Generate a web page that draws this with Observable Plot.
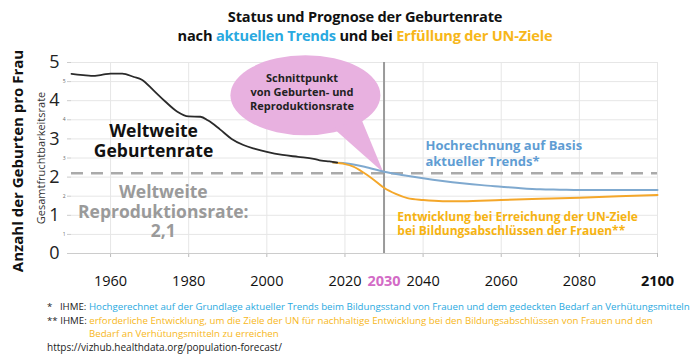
<!DOCTYPE html>
<html><head><meta charset="utf-8">
<script src="https://cdn.jsdelivr.net/npm/d3@7"></script>
<script src="https://cdn.jsdelivr.net/npm/@observablehq/plot@0.6"></script>
<style>
body{margin:0;background:#fff;font-family:"Open Sans",sans-serif;}
#wrap{position:relative;width:700px;height:357px;overflow:hidden;}
#title{position:absolute;left:15px;top:7px;width:700px;text-align:center;font-weight:700;font-size:14.6px;line-height:19px;color:#111;letter-spacing:-0.2px;}
#notes{position:absolute;left:47px;top:300px;font-size:9.7px;line-height:13.5px;color:#222;white-space:nowrap;}
.b{color:#2aa9e0}.o{color:#f7b71a}
#chart{position:absolute;left:0;top:0;}
</style></head>
<body>
<div id="wrap">
<div id="chart"></div>
<div id="title">Status und Prognose der Geburtenrate<br>nach <span class="b">aktuellen Trends</span> und bei <span class="o">Erfüllung der UN-Ziele</span></div>
<div id="notes">
<div>*&nbsp;&nbsp; IHME: <span class="b">Hochgerechnet auf der Grundlage aktueller Trends beim Bildungsstand von Frauen und dem gedeckten Bedarf an Verhütungsmitteln</span></div>
<div>** IHME: <span class="o">erforderliche Entwicklung, um die Ziele der UN für nachhaltige Entwicklung bei den Bildungsabschlüssen von Frauen und den</span></div>
<div style="padding-left:42px"><span class="o">Bedarf an Verhütungsmitteln zu erreichen</span></div>
<div style="font-size:10px">https://vizhub.healthdata.org/population-forecast/</div>
</div>
</div>
<script>
// Historical world fertility rate
const histYears = [1950,1953,1955,1958,1960,1963,1966,1968,1971,1974,1977,1980,1983,1985,1988,1991,1994,1997,2000,2004,2008,2012,2014,2016,2018];
const histValues = [4.70,4.67,4.65,4.68,4.71,4.71,4.62,4.55,4.27,3.98,3.72,3.59,3.58,3.48,3.25,3.00,2.84,2.74,2.66,2.58,2.53,2.48,2.43,2.41,2.38];
// Projection: current trends
const trendYears = [2017,2020,2025,2030,2035,2040,2045,2050,2055,2060,2065,2070,2075,2080,2090,2100];
const trendValues = [2.38,2.36,2.27,2.14,2.05,1.97,1.90,1.84,1.79,1.75,1.71,1.68,1.67,1.66,1.66,1.66];
// Projection: UN goals met
const unYears = [2017,2020,2022,2025,2028,2030,2033,2036,2040,2045,2050,2060,2070,2080,2090,2100];
const unValues = [2.38,2.34,2.28,2.10,1.88,1.72,1.56,1.45,1.40,1.37,1.37,1.40,1.43,1.46,1.50,1.53];
const replacementRate = 2.1;
const crossYear = 2030;
const xTicks = [1960,1980,2000,2020,2030,2040,2060,2080,2100];
const xGrid = [1960,1980,2000,2020,2040,2060,2080,2100];
const yMajor = [0,1,2,3,4,5];
const yMinor = [0.5,1.5,2.5,3.5,4.5];

const hist = histYears.map((y,i)=>({year:y,value:histValues[i]}));
const trend = trendYears.map((y,i)=>({year:y,value:trendValues[i]}));
const un = unYears.map((y,i)=>({year:y,value:unValues[i]}));

const bubble = (index, scales) => {
  const cx = scales.x(2010), cy = scales.y(4.13);
  const tx = scales.x(crossYear), ty = scales.y(replacementRate);
  const g = d3.create("svg:g").attr("fill","#e8b1e0");
  g.append("ellipse").attr("cx",cx).attr("cy",cy).attr("rx",75).attr("ry",40);
  g.append("path").attr("d",`M${cx+28},${cy+33}L${tx},${ty}L${cx+56},${cy+24}Z`);
  return g.node();
};

const font = "Open Sans";
const chart = Plot.plot({
  width:700, height:357,
  marginTop:62, marginBottom:104, marginLeft:71, marginRight:43,
  style:{fontFamily:font, background:"transparent"},
  x:{type:"linear",domain:[1950,2100]},
  y:{type:"linear",domain:[0,5]},
  marks:[
    Plot.gridY([...yMajor,...yMinor],{stroke:"#e6e6e6",strokeOpacity:1}),
    Plot.gridX(xGrid,{stroke:"#e6e6e6",strokeOpacity:1}),
    Plot.axisY([...yMajor,...yMinor],{tickSize:4,tickFormat:()=>"",label:null,stroke:"#ccc"}),
    Plot.axisY(yMajor,{tickSize:0,tickPadding:12,fontSize:18,label:null,fill:"#222"}),
    Plot.axisY(yMinor,{tickSize:0,tickPadding:6,fontSize:5,label:null,fill:"#666"}),
    Plot.axisX(xGrid,{tickSize:4,tickFormat:()=>"",label:null,stroke:"#bbb"}),
    Plot.ruleY([0],{stroke:"#ccc"}),
    Plot.text(xTicks.filter(d=>d!==2030&&d!==2100),{x:d=>d,text:d=>String(d),frameAnchor:"bottom",dy:32,fontSize:14.5,fill:"#111"}),
    Plot.text([2030],{x:d=>d,text:d=>String(d),frameAnchor:"bottom",dy:32,fontSize:14.5,fill:"#d36bc6",fontWeight:700}),
    Plot.text([2100],{x:d=>d,text:d=>String(d),frameAnchor:"bottom",dy:32,fontSize:14.5,fill:"#111",fontWeight:700}),
    Plot.text(["Anzahl der Geburten pro Frau"],{frameAnchor:"left",textAnchor:"middle",dx:-53,dy:3,rotate:-90,fontSize:15,fontWeight:700,fill:"#111"}),
    Plot.text(["Gesamtfruchtbarkeitsrate"],{frameAnchor:"left",textAnchor:"middle",dx:-30,dy:0,rotate:-90,fontSize:11,fill:"#333"}),
    bubble,
    Plot.ruleX([crossYear],{stroke:"#9a9a9a",strokeWidth:2}),
    Plot.ruleY([replacementRate],{stroke:"#aaa",strokeWidth:2.5,strokeDasharray:"12,8"}),
    Plot.line(trend,{x:"year",y:"value",stroke:"#7fa9cf",strokeWidth:2,curve:"monotone-x"}),
    Plot.line(un,{x:"year",y:"value",stroke:"#f4a72a",strokeWidth:2,curve:"monotone-x"}),
    Plot.line(hist,{x:"year",y:"value",stroke:"#2a2a2a",strokeWidth:1.8,curve:"monotone-x"}),
    Plot.text(["Schnittpunkt\nvon Geburten- und\nReproduktionsrate"],{x:[2009],y:[4.24],fontSize:11,fontWeight:700,fill:"#222",lineHeight:1.25}),
    Plot.text(["Weltweite\nGeburtenrate"],{x:[1971],y:[2.95],fontSize:17.5,fontWeight:700,fill:"#111",lineHeight:1.1}),
    Plot.text(["Weltweite\nReproduktionsrate:\n2,1"],{x:[1973.5],y:[1.1],fontSize:17.5,fontWeight:700,fill:"#9a9a9a",lineHeight:1.12}),
    Plot.text(["Hochrechnung auf Basis\naktueller Trends*"],{x:[2040.6],y:[2.63],textAnchor:"start",fontSize:13,fontWeight:700,fill:"#5f9dd3",lineHeight:1.25}),
    Plot.text(["Entwicklung bei Erreichung der UN-Ziele\nbei Bildungsabschlüssen der Frauen**"],{x:[2033.4],y:[0.78],textAnchor:"start",fontSize:12,fontWeight:700,fill:"#f6b312",lineHeight:1.12})
  ]
});
document.getElementById("chart").appendChild(chart);
</script>
</body></html>
